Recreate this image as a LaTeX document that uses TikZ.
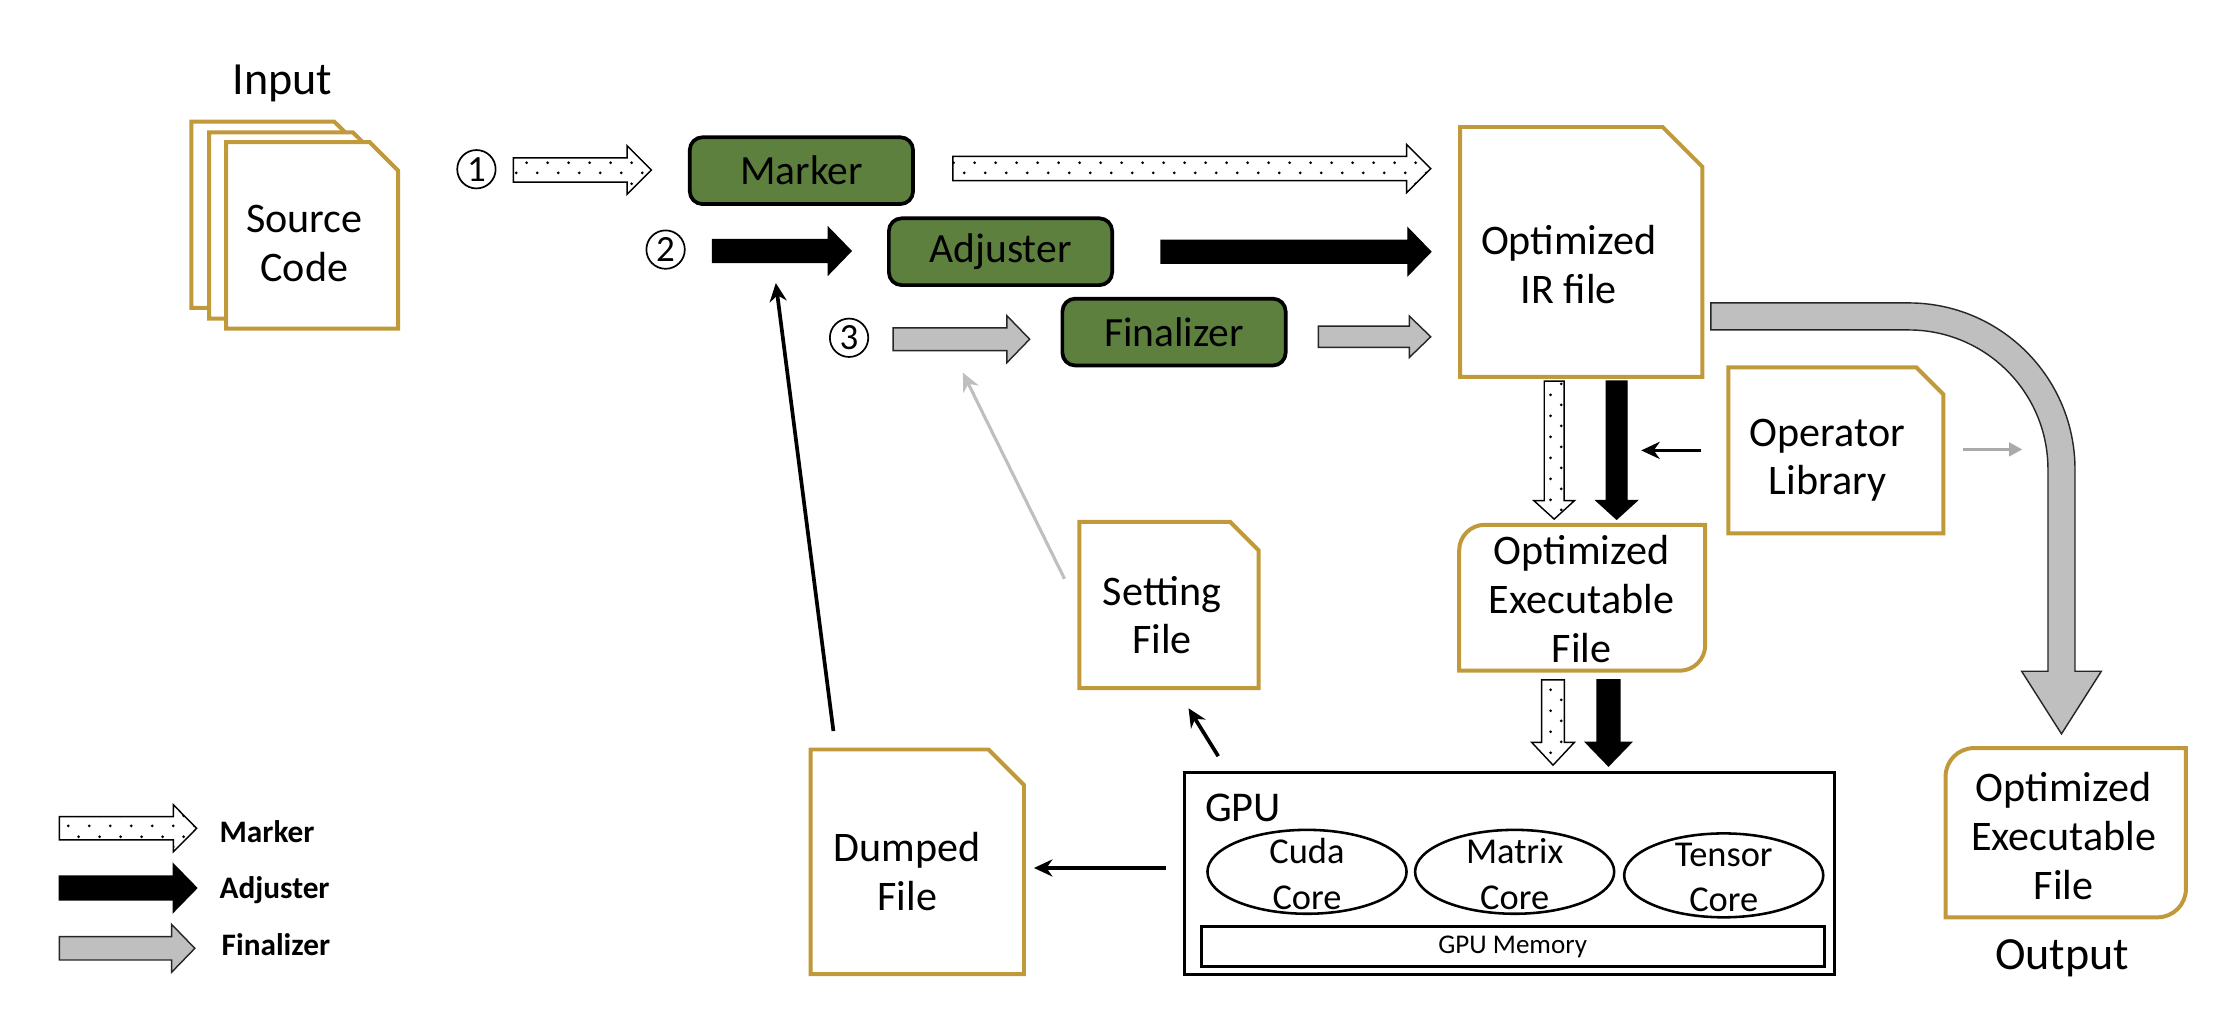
\documentclass[tikz,border=0pt]{standalone}
\usepackage{fontspec}
\setmainfont{Carlito}
\usetikzlibrary{arrows.meta,shapes.geometric,patterns.meta,fit}
\definecolor{gold}{RGB}{192,153,58}
\definecolor{boxgreen}{RGB}{94,128,62}
\definecolor{agray}{RGB}{191,191,191}
\definecolor{lgray}{RGB}{170,170,170}
\tikzdeclarepattern{
  name=sparsedots,
  type=uncolored,
  bounding box={(0pt,0pt) and (7.5pt,7.4pt)},
  tile size={(7.5pt,7.4pt)},
  code={
    \fill (1.9pt,1.85pt) circle (0.55pt);
    \fill (5.65pt,5.55pt) circle (0.55pt);
  }
}
% horizontal block arrow: [style]{x1}{x2}{y}{half body}{half head}{head length}
\newcommand{\hblk}[7][]{%
  \draw[#1] (#2,#4-#5) -- (#3-#7,#4-#5) -- (#3-#7,#4-#6) -- (#3,#4) -- (#3-#7,#4+#6) -- (#3-#7,#4+#5) -- (#2,#4+#5) -- cycle;}
% vertical block arrow: [style]{x}{y1}{y2}{half body}{half head}{head length}
\newcommand{\vblk}[7][]{%
  \draw[#1] (#2-#5,#3) -- (#2+#5,#3) -- (#2+#5,#4-#7) -- (#2+#6,#4-#7) -- (#2,#4) -- (#2-#6,#4-#7) -- (#2-#5,#4-#7) -- cycle;}
% document with cut corner: {name}{x1}{y1}{x2}{y2}{cut}{tx}{ty}{text}
\newcommand{\filedoc}[9]{%
  \draw[docline] (#2,#3) -- (#4-#6,#3) -- (#4,#3+#6) -- (#4,#5) -- (#2,#5) -- cycle;
  \node[inner sep=0pt, fit={(#2,#3) (#4,#5)}] (#1) {};
  \node[doctext] (#1-txt) at (#7,#8) {#9};}
% box with rounded top-left and bottom-right corners
\newcommand{\roundbox}[9]{%
  \draw[docline] (#2+#6,#3) -- (#4,#3) -- (#4,#5-#6) arc[start angle=0,end angle=90,radius=#6] -- (#2,#5) -- (#2,#3+#6) arc[start angle=180,end angle=270,radius=#6] -- cycle;
  \node[inner sep=0pt, fit={(#2,#3) (#4,#5)}] (#1) {};
  \node[doctext] (#1-txt) at (#7,#8) {#9};}
\begin{document}
\begin{tikzpicture}[x=0.5pt,y=-0.5pt,
  docline/.style={draw=gold, line width=1.4pt, fill=white},
  doctext/.style={align=center, inner sep=0pt, font=\fontsize{14.8}{17.2}\selectfont},
  greenbox/.style={draw=black, line width=1.3pt, fill=boxgreen, rounded corners=4.5pt,
     minimum width=78.5pt, minimum height=23.5pt, inner sep=0pt, font=\fontsize{14.6}{16}\selectfont},
  dotarrow/.style={preaction={fill=white}, preaction={pattern=sparsedots, pattern color=black}, draw=black, line width=0.5pt},
  blkarrow/.style={fill=black, draw=black, line width=0.5pt},
  grayarrow/.style={fill=agray, draw=black!85, line width=0.5pt},
  numcirc/.style={circle, draw=black, line width=0.6pt, minimum size=13.5pt, inner sep=0pt, font=\fontsize{13}{13}\selectfont},
  conn/.style={line width=1.3pt, -{Stealth[length=6.5pt,width=6pt]}},
  gconn/.style={line width=1.1pt, draw=agray, -{Stealth[length=6.5pt,width=6pt]}},
  coreell/.style={ellipse, draw=black, line width=0.9pt, minimum width=70pt, minimum height=29.5pt, inner sep=0pt},
  coretext/.style={align=center, inner sep=0pt, font=\fontsize{12.8}{16}\selectfont},
  legtext/.style={anchor=west, inner sep=0pt, font=\bfseries\fontsize{11}{13}\selectfont},
  bigtext/.style={inner sep=0pt, font=\fontsize{16.2}{18}\selectfont}
  ]
\useasboundingbox (0,0) rectangle (1568,717);

% ---------- Input ----------
\node[bigtext] (input) at (198.5,58.6) {Input};
\draw[docline] (134.5,85.5) -- (235,85.5) -- (255,105) -- (255,216.5) -- (134.5,216.5) -- cycle;
\draw[docline] (147,93) -- (248,93) -- (268,112.5) -- (268,224) -- (147,224) -- cycle;
\filedoc{src}{159}{100}{280}{231}{20}{214}{171}{Source\\Code}

% ---------- circled numbers ----------
\node[numcirc] (n1) at (335,119) {1};
\node[numcirc] (n2) at (468,175.5) {2};
\node[numcirc] (n3) at (597,237.5) {3};

% ---------- green boxes ----------
\node[greenbox] (marker) at (563.5,120) {Marker};
\node[greenbox] (adjuster) at (703.5,177) {Adjuster};
\node[greenbox] (finalizer) at (825.5,233.5) {Finalizer};

% ---------- horizontal block arrows ----------
\hblk[dotarrow]{361}{458}{119.5}{8.5}{17}{17}
\hblk[dotarrow]{670}{1006}{118.5}{8.5}{17}{17}
\hblk[blkarrow]{501}{598.4}{176.5}{8}{16.5}{16}
\hblk[blkarrow]{816.4}{1006}{177}{8}{16.5}{16}
\hblk[grayarrow]{628}{724}{238.5}{8}{16.5}{16}
\hblk[grayarrow]{927}{1006}{236.8}{7.5}{14.5}{15}

% ---------- IR file ----------
\filedoc{irfile}{1026.6}{89.3}{1197}{265}{28}{1103}{186}{Optimized\\IR file}

% ---------- big curved arrow ----------
\draw[grayarrow] (1203,213) -- (1342,213) arc[start angle=270,end angle=360,radius=117]
  -- (1459,472) -- (1477.5,472) -- (1449.5,516) -- (1421.5,472) -- (1440,472) -- (1440,330)
  arc[start angle=360,end angle=270,radius=98] -- (1203,232) -- cycle;

% ---------- Operator library ----------
\filedoc{oplib}{1215.3}{258.3}{1366.4}{375}{19}{1285}{323.6}{Operator\\Library}
\coordinate (opl-a) at (1196,316.7);
\coordinate (opl-b) at (1154,316.7);
\draw[conn] (opl-a) -- (opl-b);
\coordinate (opr-a) at (1380,316);
\coordinate (opr-b) at (1422,316);
\draw[line width=1.2pt, draw=lgray, -{Triangle[length=4.7pt,width=4.7pt]}] (opr-a) -- (opr-b);

% ---------- vertical arrows IR -> OEF ----------
\vblk[dotarrow]{1092.8}{268}{365}{7}{14.3}{13}
\vblk[blkarrow]{1136.7}{268}{365}{7.3}{14.3}{13}

% ---------- middle OEF ----------
\roundbox{oefmid}{1026}{369}{1199}{471.6}{18}{1112}{421}{Optimized\\Executable\\File}

% ---------- vertical arrows OEF -> GPU ----------
\vblk[dotarrow]{1092}{478}{538}{8}{15}{16}
\vblk[blkarrow]{1131}{478}{538.5}{8}{16}{16.5}

% ---------- GPU ----------
\node[draw=black, line width=1.1pt, inner sep=0pt, fit={(833,543) (1290,685)}] (gpu) {};
\node[anchor=west, inner sep=0pt, font=\fontsize{14.9}{17}\selectfont] (gputxt) at (847,568) {GPU};
\node[coreell] (cuda) at (919,613) {};
\node[coretext] (cudatxt) at (919,614.7) {Cuda\\Core};
\node[coreell] (matrix) at (1065,613) {};
\node[coretext] (matrixtxt) at (1065,614.7) {Matrix\\Core};
\node[coreell] (tensor) at (1212,615.5) {};
\node[coretext] (tensortxt) at (1212,617) {Tensor\\Core};
\node[draw=black, line width=1.1pt, inner sep=0pt, fit={(844.6,651.5) (1282.7,679.5)}] (gpumem) {};
\node[inner sep=0pt, font=\fontsize{9.5}{10}\selectfont] (gpumemtxt) at (gpumem.center) {GPU Memory};

% ---------- Dumped / Setting ----------
\filedoc{dumped}{570}{527}{720}{685}{25}{638}{613}{Dumped\\File}
\filedoc{setting}{759}{367}{885}{483.8}{20}{817}{432.5}{Setting\\File}

\coordinate (g2d-a) at (820,610.3);
\coordinate (g2d-b) at (727,610.3);
\draw[conn] (g2d-a) -- (g2d-b);
\coordinate (g2s-a) at (856.6,531.7);
\coordinate (g2s-b) at (835.7,498);
\draw[conn] (g2s-a) -- (g2s-b);
\coordinate (d2a-a) at (586,514);
\coordinate (d2a-b) at (545.5,199);
\draw[conn] (d2a-a) -- (d2a-b);
\coordinate (s2f-a) at (748.5,407);
\coordinate (s2f-b) at (677,262);
\draw[gconn] (s2f-a) -- (s2f-b);

% ---------- Output ----------
\roundbox{oefout}{1368}{526}{1537}{645}{20}{1451}{588}{Optimized\\Executable\\File}
\node[bigtext] (output) at (1450,674) {Output};

% ---------- Legend ----------
\hblk[dotarrow]{41.7}{138.3}{582.4}{8.2}{16.5}{16.4}
\hblk[blkarrow]{41.7}{138.3}{624.4}{8.4}{16.8}{16.4}
\hblk[grayarrow]{41.7}{137}{666.8}{8.2}{16.8}{16.3}
\node[legtext] (lm) at (154,585) {Marker};
\node[legtext] (la) at (154,625.8) {Adjuster};
\node[legtext] (lf) at (155.5,664.5) {Finalizer};
\end{tikzpicture}
\end{document}
